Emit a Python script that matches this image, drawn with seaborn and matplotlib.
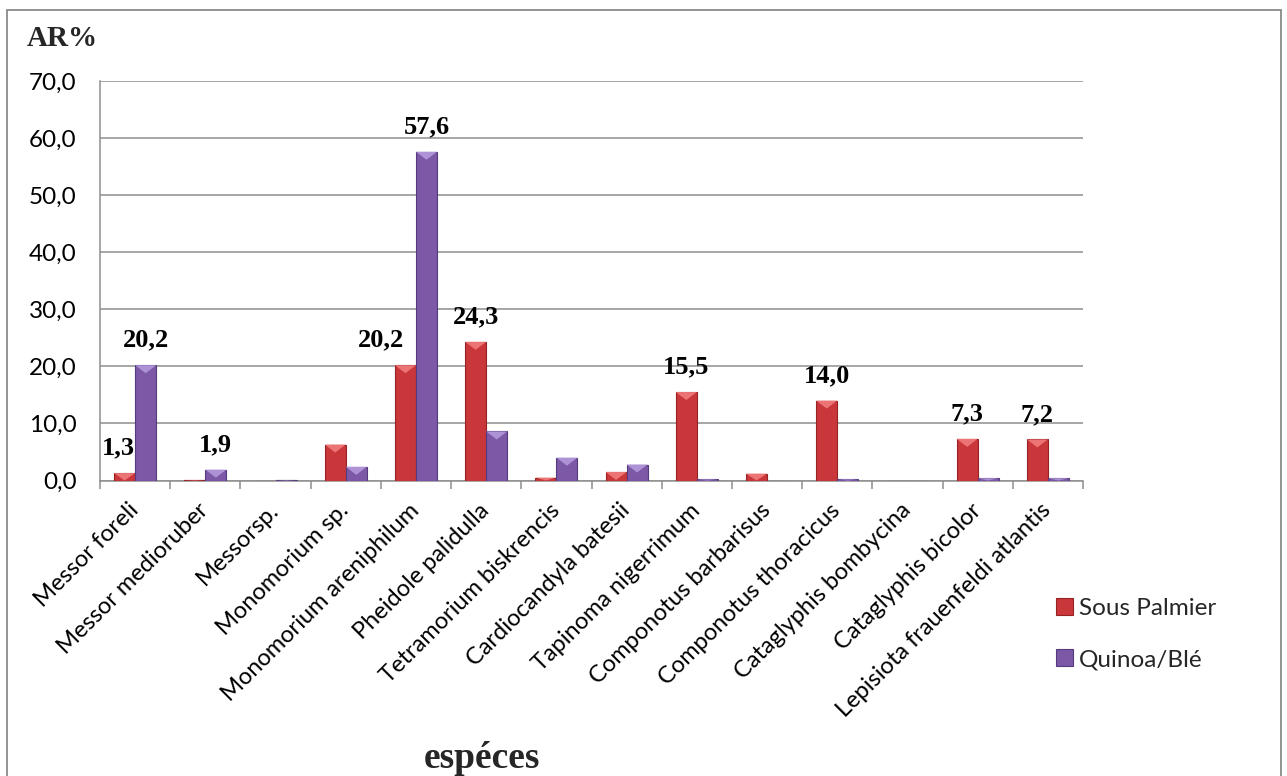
import matplotlib
matplotlib.use("Agg")
import matplotlib.pyplot as plt
from matplotlib.patches import Polygon, Rectangle
from matplotlib.ticker import FuncFormatter, FixedLocator
import seaborn as sns
import pandas as pd
import numpy as np

# ---- data -------------------------------------------------------------
species = [
    "Messor foreli", "Messor medioruber", "Messorsp.", "Monomorium sp.",
    "Monomorium areniphilum", "Pheidole palidulla", "Tetramorium biskrencis",
    "Cardiocandyla batesii", "Tapinoma nigerrimum", "Componotus barbarisus",
    "Componotus thoracicus", "Cataglyphis bombycina", "Cataglyphis bicolor",
    "Lepisiota frauenfeldi atlantis",
]
sites = ["Sous Palmier", "Quinoa/Blé"]
sous_palmier = [1.3, 0.1, 0.0, 6.3, 20.2, 24.3, 0.5, 1.5, 15.5, 1.2, 14.0, 0.0, 7.3, 7.2]
quinoa_ble = [20.2, 1.9, 0.1, 2.4, 57.6, 8.6, 4.0, 2.8, 0.2, 0.0, 0.2, 0.0, 0.4, 0.4]
y_ticks = [0, 10, 20, 30, 40, 50, 60, 70]

# bars carrying a value label: (site index, species index)
labelled = [(0, 0), (1, 0), (1, 1), (0, 4), (1, 4), (0, 5), (0, 8), (0, 10), (0, 12), (0, 13)]
# horizontal nudges (pixels) for labels that would collide with a neighbour
label_nudge = {(0, 0): -6, (0, 4): -24}

df = pd.DataFrame({
    "species": species * 2,
    "site": [sites[0]] * len(species) + [sites[1]] * len(species),
    "value": sous_palmier + quinoa_ble,
})

# ---- style ------------------------------------------------------------
sns.set_theme(style="white")
plt.rcParams["font.family"] = ["Lato", "DejaVu Sans"]

RED = "#C9373A"
PURPLE = "#7C58A7"
RED_EDGE = "#962224"
PURPLE_EDGE = "#553A7E"
RED_TOP = "#EC7475"
PURPLE_TOP = "#AE92D6"
GRID = "#8E8E8E"
SERIF = "Liberation Serif"

W, H = 1287, 776
fig = plt.figure(figsize=(W / 100, H / 100), dpi=100)
ax = fig.add_axes([100 / W, 1 - 480.5 / H, 983 / W, 399.5 / H])

sns.barplot(data=df, x="species", y="value", hue="site", order=species,
            hue_order=sites, palette=[RED, PURPLE], width=0.6, saturation=1,
            linewidth=0.8, ax=ax, legend=True, zorder=3)

# darker edges and a light bevel on top of each bar
edge_of = {RED: RED_EDGE, PURPLE: PURPLE_EDGE}
top_of = {RED: RED_TOP, PURPLE: PURPLE_TOP}
bars = [p for p in ax.patches if isinstance(p, Rectangle)]
for p in bars:
    fc = matplotlib.colors.to_hex(p.get_facecolor())
    key = RED if abs(int(fc[1:3], 16) - 0xC9) < 20 else PURPLE
    p.set_edgecolor(edge_of[key])
    h = p.get_height()
    if h <= 0:
        continue
    x0, w = p.get_x(), p.get_width()
    d = min(1.4, h)
    tri = Polygon([(x0, h), (x0 + w, h), (x0 + w / 2, h - d)], closed=True,
                  facecolor=top_of[key], edgecolor="none", zorder=4)
    ax.add_patch(tri)

# ---- axes -------------------------------------------------------------
ax.set_xlim(-0.5, len(species) - 0.5)
ax.set_ylim(0, 70)
ax.set_yticks(y_ticks)
ax.yaxis.set_major_formatter(FuncFormatter(lambda v, _: f"{v:.1f}".replace(".", ",")))
ax.grid(axis="y", color=GRID, linewidth=1.1, zorder=0)
ax.set_axisbelow(True)
for side in ("top", "right"):
    ax.spines[side].set_visible(False)
for side in ("left", "bottom"):
    ax.spines[side].set_color(GRID)
    ax.spines[side].set_linewidth(1.1)

ax.tick_params(axis="y", which="major", length=5.8, width=1.1, color=GRID,
               pad=11, labelsize=17.5, labelcolor="black")
ax.xaxis.set_minor_locator(FixedLocator(np.arange(-0.5, len(species), 1.0)))
ax.tick_params(axis="x", which="minor", length=5.8, width=1.1, color=GRID,
               direction="out", bottom=True)
ax.tick_params(axis="x", which="major", length=0, pad=19, labelsize=17,
               labelcolor="black")
ax.set_xticks(range(len(species)))
ax.set_xticklabels(species, rotation=45, ha="right", va="center",
                   rotation_mode="anchor")
ax.set_xlabel("")
ax.set_ylabel("")

# ---- value labels -----------------------------------------------------
series = [sous_palmier, quinoa_ble]
offsets = [-0.15, 0.15]
for s, i in labelled:
    v = series[s][i]
    ax.annotate(f"{v:.1f}".replace(".", ","), xy=(i + offsets[s], v),
                xytext=(label_nudge.get((s, i), 0), 25), textcoords="offset pixels",
                ha="center", va="center", fontsize=19, fontweight="bold",
                family=SERIF, color="black", zorder=6)

# ---- legend -----------------------------------------------------------
handles, labels = ax.get_legend_handles_labels()
leg = ax.legend(handles, labels, loc="upper left",
                bbox_to_anchor=(1046 / W, 1 - 588 / H), bbox_transform=fig.transFigure,
                frameon=False, fontsize=17.5, handlelength=0.7, handleheight=0.7,
                handletextpad=0.25, labelspacing=1.25, borderaxespad=0)
for hnd, ec in zip(leg.legend_handles, [RED_EDGE, PURPLE_EDGE]):
    hnd.set_edgecolor(ec)

# ---- titles and frame ---------------------------------------------------
fig.text(27 / W, 1 - 38 / H, "AR%", ha="left", va="center", fontsize=21,
         fontweight="bold", family=SERIF)
fig.text(482 / W, 1 - 759 / H, "espéces", ha="center", va="center", fontsize=27,
         fontweight="bold", family=SERIF)
fig.add_artist(Rectangle((7 / W, -0.02), 1274 / W, 1.02 - 10 / H,
                         transform=fig.transFigure, fill=False,
                         edgecolor="#8A8A8A", linewidth=1.3))

fig.savefig("out.png", dpi=100, facecolor="white")
